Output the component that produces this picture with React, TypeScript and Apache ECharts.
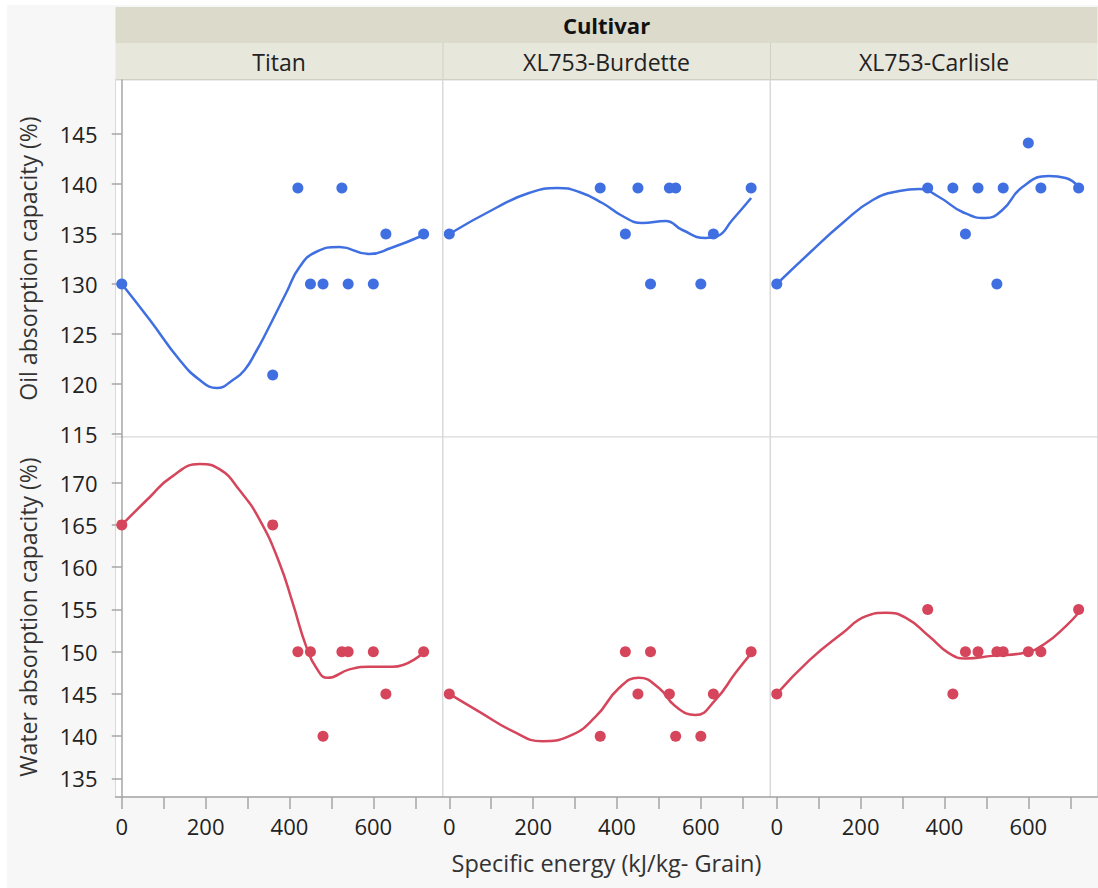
import React, { useEffect, useRef } from "react";
import * as echarts from "echarts";

// ---- data ----
const cultivars = ["Titan", "XL753-Burdette", "XL753-Carlisle"];
const energy = [0, 360, 420, 450, 480, 525, 540, 600, 630, 720];

const titanOil = [130, 120.9, 139.6, 130, 130, 139.6, 130, 130, 135, 135];
const burdetteOil = [135, 139.6, 135, 139.6, 130, 139.6, 139.6, 130, 135, 139.6];
const carlisleOil = [130, 139.6, 139.6, 135, 139.6, 130, 139.6, 144.1, 139.6, 139.6];

const titanWater = [165, 165, 150, 150, 140, 150, 150, 150, 145, 150];
const burdetteWater = [145, 140, 150, 145, 150, 145, 140, 140, 145, 150];
const carlisleWater = [145, 155, 145, 150, 150, 150, 150, 150, 150, 155];

// smoothed fit curves as [energy, value]
const titanOilFit = [[0, 130], [67, 126.4], [138, 122.4], [186, 120.4], [227, 119.6], [265, 120.4], [293, 121.4], [321, 123.3], [344, 125.1], [392, 129.1], [424, 131.7], [463, 133.2], [519, 133.7], [590, 133.0], [642, 133.6], [720, 134.9]];
const burdetteOilFit = [[0, 135], [111, 137.6], [190, 139.1], [258, 139.6], [310, 139.2], [365, 138.1], [413, 136.8], [460, 136.1], [516, 136.3], [556, 135.4], [611, 134.6], [640, 134.8], [675, 136.4], [720, 138.6]];
const carlisleOilFit = [[0, 130], [78, 133.1], [157, 136.1], [229, 138.4], [292, 139.3], [340, 139.5], [387, 138.7], [443, 137.2], [498, 136.6], [538, 137.4], [586, 139.7], [649, 140.8], [689, 140.6], [720, 139.7]];

const titanWaterFit = [[0, 165], [67, 168.3], [114, 170.5], [186, 172.2], [233, 171.6], [281, 169.1], [329, 165.6], [376, 160.5], [408, 155.7], [440, 150.6], [465, 148.0], [491, 146.9], [543, 147.9], [590, 148.2], [646, 148.2], [720, 149.9]];
const burdetteWaterFit = [[0, 145], [71, 142.9], [151, 140.6], [222, 139.4], [286, 140.0], [349, 142.3], [405, 145.7], [452, 146.9], [500, 145.7], [540, 143.5], [587, 142.5], [635, 144.3], [683, 147.5], [720, 149.8]];
const carlisleWaterFit = [[0, 145], [78, 149.0], [157, 152.2], [213, 154.2], [260, 154.6], [308, 154.0], [364, 151.8], [411, 149.8], [451, 149.2], [514, 149.5], [594, 149.9], [641, 151.0], [689, 153.0], [720, 154.6]];

const xTickValues = [0, 100, 200, 300, 400, 500, 600, 700];
const xLabelValues = [0, 200, 400, 600];
const oilTicks = [115, 120, 125, 130, 135, 140, 145];
const waterTicks = [135, 140, 145, 150, 155, 160, 165, 170];

const rowNames = ["Oil absorption capacity (%)", "Water absorption capacity (%)"];

// ---- layout / style ----
const FONT = "'Open Sans', 'Noto Sans', sans-serif";
const BLUE = "#3f6fe0";
const RED = "#d5455b";
const AXIS = "#a6a6a6";
const colLeft = [115.5, 443, 770.5];
const colW = 327;
const rowTop = [80, 437];
const rowH = [357, 360];
const yRanges = [
  [114.7, 150.4],
  [132.8, 175.4],
];

export default function App() {
  const ref = useRef<HTMLDivElement>(null);

  useEffect(() => {
    if (!ref.current) return;
    const chart = echarts.init(ref.current, undefined, { renderer: "svg" });

    const ptsOil = [titanOil, burdetteOil, carlisleOil];
    const ptsWater = [titanWater, burdetteWater, carlisleWater];
    const fitOil = [titanOilFit, burdetteOilFit, carlisleOilFit];
    const fitWater = [titanWaterFit, burdetteWaterFit, carlisleWaterFit];

    const grids: any[] = [];
    const xAxes: any[] = [];
    const yAxes: any[] = [];
    const series: any[] = [];

    for (let r = 0; r < 2; r++) {
      for (let c = 0; c < 3; c++) {
        const i = r * 3 + c;
        grids.push({
          left: colLeft[c],
          top: rowTop[r],
          width: colW,
          height: rowH[r],
          show: true,
          backgroundColor: "#ffffff",
          borderColor: "#d9d9d9",
          borderWidth: 1,
        });
        const bottomRow = r === 1;
        xAxes.push({
          type: "value",
          gridIndex: i,
          min: -15,
          max: 765,
          axisLine: { show: bottomRow, lineStyle: { color: AXIS, width: 1.5 } },
          axisTick: {
            show: bottomRow,
            length: 12,
            lineStyle: { color: AXIS, width: 1.5 },
            customValues: xTickValues,
          },
          axisLabel: {
            show: bottomRow,
            customValues: xLabelValues,
            fontSize: 22,
            fontFamily: FONT,
            color: "#222",
            margin: 18,
          },
          splitLine: { show: false },
        });
        const firstCol = c === 0;
        yAxes.push({
          type: "value",
          gridIndex: i,
          min: yRanges[r][0],
          max: yRanges[r][1],
          name: firstCol ? rowNames[r] : "",
          nameLocation: "middle",
          nameGap: 76,
          nameTextStyle: { fontSize: 23, fontFamily: FONT, color: "#333" },
          axisLine: { show: firstCol, lineStyle: { color: AXIS, width: 1.5 } },
          axisTick: {
            show: firstCol,
            length: 10,
            lineStyle: { color: AXIS, width: 1.5 },
            customValues: r === 0 ? oilTicks : waterTicks,
          },
          axisLabel: {
            show: firstCol,
            customValues: r === 0 ? oilTicks : waterTicks,
            fontSize: 22,
            fontFamily: FONT,
            color: "#222",
            margin: 18,
          },
          splitLine: { show: false },
        });

        const color = r === 0 ? BLUE : RED;
        const vals = r === 0 ? ptsOil[c] : ptsWater[c];
        const fit = r === 0 ? fitOil[c] : fitWater[c];
        series.push({
          type: "line",
          xAxisIndex: i,
          yAxisIndex: i,
          data: fit,
          smooth: 0.5,
          showSymbol: false,
          lineStyle: { color, width: 2.5 },
          z: 2,
          silent: true,
        });
        series.push({
          type: "scatter",
          xAxisIndex: i,
          yAxisIndex: i,
          data: energy.map((e, k) => [e, vals[k]]),
          symbolSize: 11,
          itemStyle: { color, opacity: 1 },
          z: 3,
        });
      }
    }

    const graphic: any[] = [
      { type: "rect", shape: { x: 0, y: 0, width: 1098, height: 5 }, style: { fill: "#ffffff" } },
      { type: "rect", shape: { x: 0, y: 0, width: 7, height: 888 }, style: { fill: "#ffffff" } },
      { type: "rect", shape: { x: 115.5, y: 7, width: 982, height: 36 }, style: { fill: "#dcdacb" } },
      { type: "rect", shape: { x: 115.5, y: 43, width: 982, height: 37 }, style: { fill: "#e8e7dc" } },
      { type: "line", shape: { x1: 443, y1: 43, x2: 443, y2: 80 }, style: { stroke: "#d2d0c3", lineWidth: 1 } },
      { type: "line", shape: { x1: 770.5, y1: 43, x2: 770.5, y2: 80 }, style: { stroke: "#d2d0c3", lineWidth: 1 } },
      { type: "line", shape: { x1: 115.5, y1: 79.5, x2: 1097.5, y2: 79.5 }, style: { stroke: "#d2d0c3", lineWidth: 1 } },
      {
        type: "text",
        x: 606.5,
        y: 25,
        style: { text: "Cultivar", textAlign: "center", textVerticalAlign: "middle", font: `bold 22px ${FONT}`, fill: "#111" },
      },
      ...cultivars.map((name, c) => ({
        type: "text",
        x: colLeft[c] + colW / 2,
        y: 62,
        style: { text: name, textAlign: "center", textVerticalAlign: "middle", font: `23px ${FONT}`, fill: "#222" },
      })),
      {
        type: "text",
        x: 606.5,
        y: 863,
        style: {
          text: "Specific energy (kJ/kg- Grain)",
          textAlign: "center",
          textVerticalAlign: "middle",
          font: `23.5px ${FONT}`,
          fill: "#333",
        },
      },
    ];

    chart.setOption({
      animation: false,
      backgroundColor: "#f7f7f7",
      grid: grids,
      xAxis: xAxes,
      yAxis: yAxes,
      series,
      graphic,
    });

    return () => chart.dispose();
  }, []);

  return (
    <div
      ref={ref}
      style={{ position: "fixed", left: 0, top: 0, width: 1098, height: 888 }}
    />
  );
}
